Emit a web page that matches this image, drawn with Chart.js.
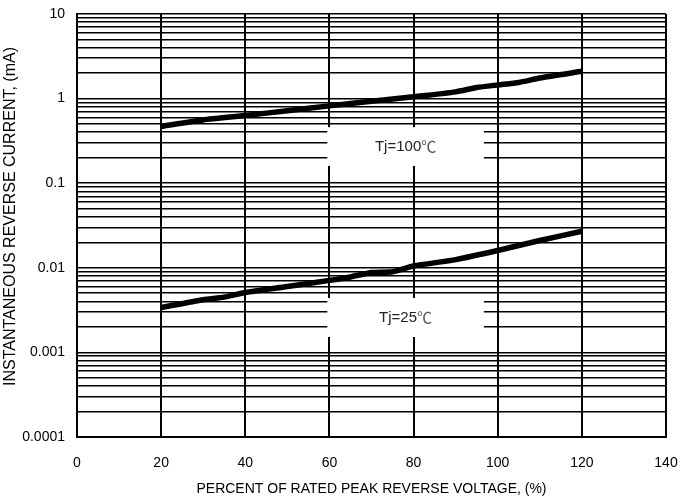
<!DOCTYPE html>
<html>
<head>
<meta charset="utf-8">
<script src="https://cdn.jsdelivr.net/npm/chart.js@4"></script>
<style>
  html, body { margin: 0; padding: 0; background: #fff; }
  #wrap { width: 682px; height: 502px; }
</style>
</head>
<body>
<div id="wrap"><canvas id="myChart" width="682" height="502"></canvas></div>
<script>
// values
const hotX = [20, 30, 40, 50, 60, 70, 80, 90, 95, 100, 105, 110, 120];
const hotY = [0.47, 0.56, 0.63, 0.72, 0.82, 0.93, 1.05, 1.2, 1.35, 1.45, 1.55, 1.75, 2.1];
const coldX = [20, 30, 35, 40, 50, 60, 65, 70, 75, 80, 90, 100, 110, 120];
const coldY = [0.0034, 0.0042, 0.0045, 0.0051, 0.006, 0.0071, 0.0078, 0.0088, 0.009, 0.0105, 0.0125, 0.016, 0.021, 0.027];
const xTicks = [0, 20, 40, 60, 80, 100, 120, 140];
const decades = [0.0001, 0.001, 0.01, 0.1, 1, 10];
const labels = [
  { text: 'Tj=100', x1: 59.5, x2: 96.7, y1: 0.46, y2: 0.16 },
  { text: 'Tj=25', x1: 59.5, x2: 96.7, y1: 0.0044, y2: 0.00152 }
];
const yTitle = 'INSTANTANEOUS REVERSE CURRENT, (mA)';

let yGrid = [];
for (let d = 0; d < decades.length - 1; d++) {
  for (let m = 1; m < 10; m++) yGrid.push(+(decades[d] * m).toPrecision(3));
}
yGrid.push(10);

const boxPlugin = {
  id: 'boxes',
  beforeDatasetsDraw(chart) {
    const c = chart.ctx, xs = chart.scales.x, ys = chart.scales.y;
    c.save();
    labels.forEach(l => {
      let a = xs.getPixelForValue(l.x1), b = xs.getPixelForValue(l.x2);
      let t = ys.getPixelForValue(l.y1), u = ys.getPixelForValue(l.y2);
      c.fillStyle = '#fff';
      c.fillRect(a, t, b - a, u - t);
      c.textBaseline = 'middle';
      c.textAlign = 'left';
      c.font = '15px "Liberation Sans", Arial, sans-serif';
      let w1 = c.measureText(l.text).width;
      c.font = '15px "Noto Sans CJK SC"';
      let w2 = c.measureText('\u2103').width;
      let sx = (a + b) / 2 - (w1 + w2) / 2, my = (t + u) / 2;
      c.fillStyle = '#222';
      c.font = '15px "Liberation Sans", Arial, sans-serif';
      c.fillText(l.text, sx, my);
      c.fillStyle = '#555';
      c.font = '15px "Noto Sans CJK SC"';
      c.fillText('\u2103', sx + w1, my);
    });
    c.restore();
  },
  afterDraw(chart) {
    // y axis title, sits a little above the middle of the plot
    const c = chart.ctx;
    c.save();
    c.translate(11, chart.chartArea.top + (chart.chartArea.bottom - chart.chartArea.top) / 2 - 9);
    c.rotate(-Math.PI / 2);
    c.fillStyle = '#000';
    c.font = '16px "Liberation Sans", Arial, sans-serif';
    c.textAlign = 'center';
    c.textBaseline = 'middle';
    c.fillText(yTitle, 0, 0);
    c.restore();
  }
};

function noPad(s) {
  s.paddingTop = 0; s.paddingBottom = 0; s.paddingLeft = 0; s.paddingRight = 0;
}

const ctx = document.getElementById('myChart').getContext('2d');
const myChart = new Chart(ctx, {
  type: 'line',
  data: {
    datasets: [
      { data: hotX.map((x, i) => ({ x: x, y: hotY[i] })), borderColor: '#000', borderWidth: 5.5, pointRadius: 0, tension: 0.2 },
      { data: coldX.map((x, i) => ({ x: x, y: coldY[i] })), borderColor: '#000', borderWidth: 5.5, pointRadius: 0, tension: 0.2 }
    ]
  },
  plugins: [boxPlugin],
  options: {
    responsive: false,
    animation: false,
    layout: { padding: { top: 14, right: 16, left: 0, bottom: 0 } },
    plugins: { legend: { display: false }, tooltip: { enabled: false } },
    scales: {
      x: {
        type: 'linear', min: 0, max: 140,
        afterBuildTicks: s => { s.ticks = xTicks.map(v => ({ value: v })); },
        afterFit: s => { s.height = 65; noPad(s); },
        grid: { color: '#000', lineWidth: 2, drawTicks: false },
        border: { color: '#000', width: 2 },
        ticks: { color: '#000', padding: 18, font: { family: '"Liberation Sans", Arial', size: 14 } },
        title: { display: true, text: 'PERCENT OF RATED PEAK REVERSE VOLTAGE, (%)', color: '#000', padding: { top: 6 },
          font: { family: '"Liberation Sans", Arial', size: 14 } }
      },
      y: {
        type: 'logarithmic', min: 0.0001, max: 10,
        afterBuildTicks: s => { s.ticks = yGrid.map(v => ({ value: v })); },
        afterFit: s => { s.width = 77; noPad(s); },
        grid: { color: '#000', lineWidth: 1.6, drawTicks: false },
        border: { color: '#000', width: 2 },
        ticks: {
          color: '#000', padding: 12, autoSkip: false,
          font: { family: '"Liberation Sans", Arial', size: 14 },
          callback: v => decades.includes(v) ? String(v) : ''
        }
      }
    }
  }
});
</script>
</body>
</html>
